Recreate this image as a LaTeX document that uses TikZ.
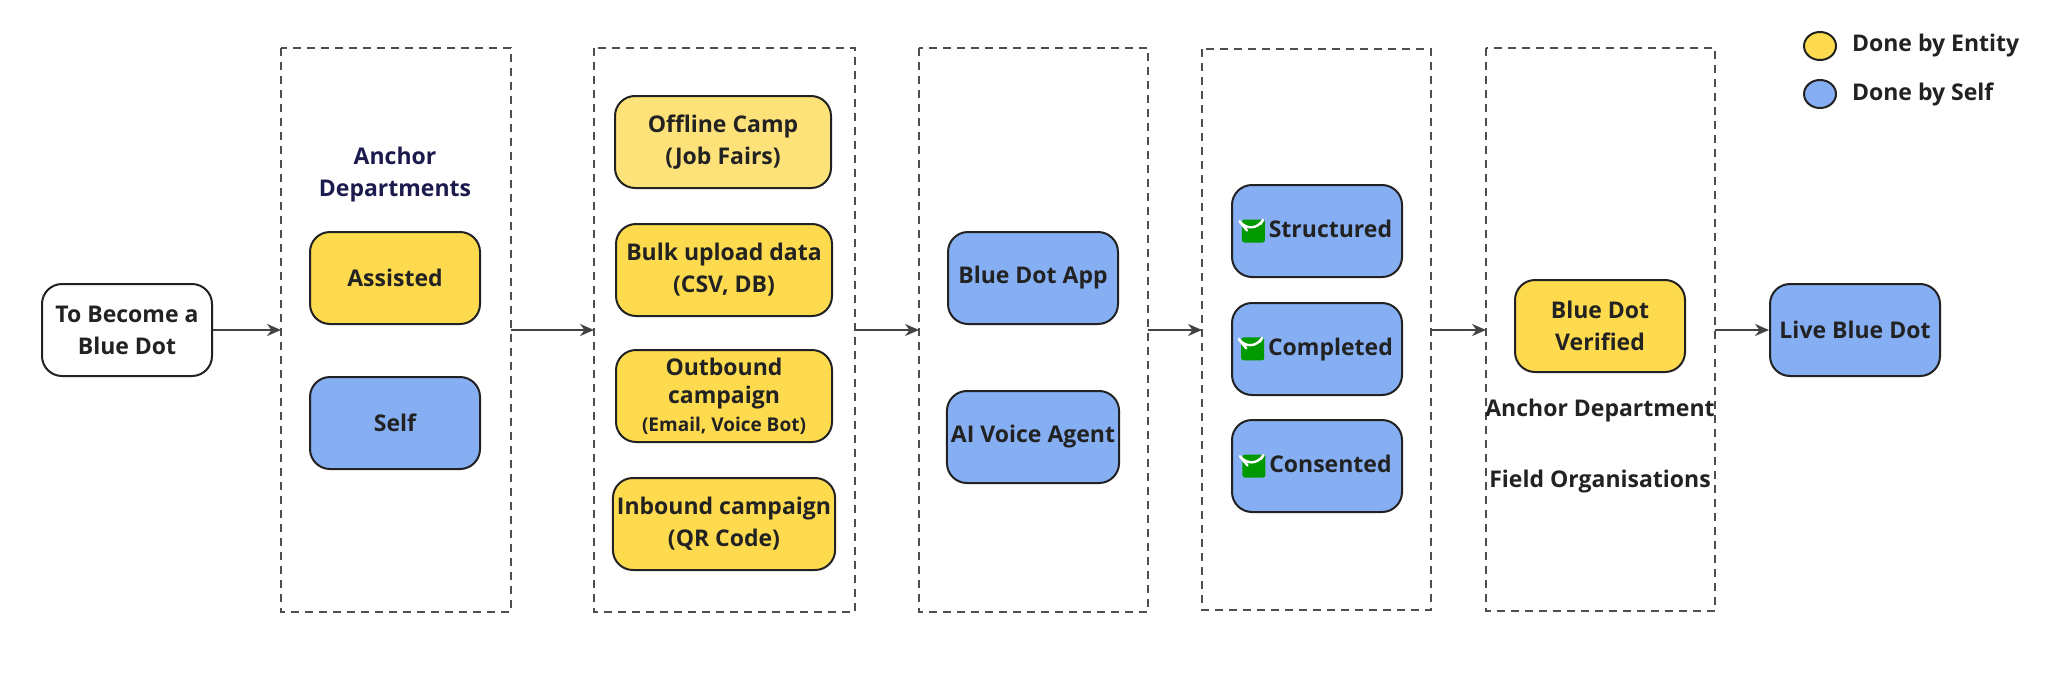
\documentclass[tikz,border=0pt]{standalone}
\usepackage{fontspec}
\setmainfont{Open Sans}
\usetikzlibrary{arrows.meta,shapes.geometric}
\definecolor{yel}{HTML}{FDDA4E}
\definecolor{yel2}{HTML}{FDE27A}
\definecolor{blu}{HTML}{85AEF3}
\definecolor{ink}{HTML}{222222}
\newcommand{\chk}{\tikz[baseline=-0.5ex]{\fill[green!60!black,rounded corners=1.2pt] (0,-0.5em) rectangle (1em,0.5em);\draw[white,line width=1.2pt,line cap=round,line join=round] (0.22em,0.02em) -- (0.44em,-0.25em) -- (0.8em,0.3em);}\,}
\tikzset{
 x=0.5pt,y=-0.5pt,
 bx/.style={draw=ink,line width=1pt,rounded corners=10pt,minimum width=85pt,minimum height=46pt,align=center,font=\bfseries\fontsize{11.5}{16}\selectfont,text=ink,inner sep=2pt},
 ybx/.style={bx,fill=yel},
 bbx/.style={bx,fill=blu},
 grp/.style={draw=ink!80,line width=0.8pt,dash pattern=on 4pt off 3pt},
 lbl/.style={font=\bfseries\fontsize{11.5}{16}\selectfont,text=ink,align=center},
 arr/.style={-{Stealth[length=7pt,width=6pt]},line width=1.1pt,draw=ink!85},
}
\begin{document}
\begin{tikzpicture}
\useasboundingbox[fill=white] (0,0) rectangle (2048,685);
% groups
\draw[grp] (281,48) rectangle (511,612);
\draw[grp] (594,48) rectangle (855,612);
\draw[grp] (919,48) rectangle (1148,612);
\draw[grp] (1202,49) rectangle (1431,610);
\draw[grp] (1486,48) rectangle (1715,611);
\coordinate (g1) at (281,330); \coordinate (g1r) at (511,330);
\coordinate (g2) at (594,330); \coordinate (g2r) at (855,330);
\coordinate (g3) at (919,330); \coordinate (g3r) at (1148,330);
\coordinate (g4) at (1202,330); \coordinate (g4r) at (1431,330);
\coordinate (g5) at (1486,330); \coordinate (g5r) at (1715,330);
% nodes
\node[bx,fill=white] (start) at (127,330) {To Become a\\Blue Dot};
\node[lbl,text=ink!80!blue] (anc) at (395,175) {Anchor\\Departments};
\node[ybx] (ass) at (395,278) {Assisted};
\node[bbx] (self) at (395,423) {Self};
\node[bx,fill=yel2,minimum width=108pt] (off) at (723,142) {Offline Camp\\(Job Fairs)};
\node[ybx,minimum width=108pt] (bulk) at (724,270) {Bulk upload data\\(CSV, DB)};
\node[ybx,minimum width=108pt,font=\bfseries\fontsize{11.5}{14}\selectfont] (out) at (724,396) {Outbound\\campaign\\{\fontsize{9.5}{14}\selectfont(Email, Voice Bot)}};
\node[ybx,minimum width=108pt] (inb) at (724,524) {Inbound campaign\\(QR Code)};
\node[bbx] (app) at (1033,278) {Blue Dot App};
\node[bbx] (ai) at (1033,437) {AI Voice Agent};
\node[bbx] (str) at (1317,231) {\chk Structured};
\node[bbx] (com) at (1317,349) {\chk Completed};
\node[bbx] (con) at (1317,466) {\chk Consented};
\node[ybx] (ver) at (1600,326) {Blue Dot\\Verified};
\node[lbl] (ad) at (1600,411) {Anchor Department};
\node[lbl] (fo) at (1600,482) {Field Organisations};
\node[bbx] (live) at (1855,330) {Live Blue Dot};
% legend
\node[draw=ink,line width=1pt,fill=yel,ellipse,minimum width=16pt,minimum height=14pt,inner sep=0pt] (ly) at (1820,46) {};
\node[draw=ink,line width=1pt,fill=blu,ellipse,minimum width=16pt,minimum height=14pt,inner sep=0pt] (lb) at (1820,94) {};
\node[lbl,anchor=west] (lyt) at (1845,46) {Done by Entity};
\node[lbl,anchor=west] (lbt) at (1845,94) {Done by Self};
% arrows
\draw[arr] (start.east) -- (g1);
\draw[arr] (g1r) -- (g2);
\draw[arr] (g2r) -- (g3);
\draw[arr] (g3r) -- (g4);
\draw[arr] (g4r) -- (g5);
\draw[arr] (g5r) -- (live.west);
\end{tikzpicture}
\end{document}
